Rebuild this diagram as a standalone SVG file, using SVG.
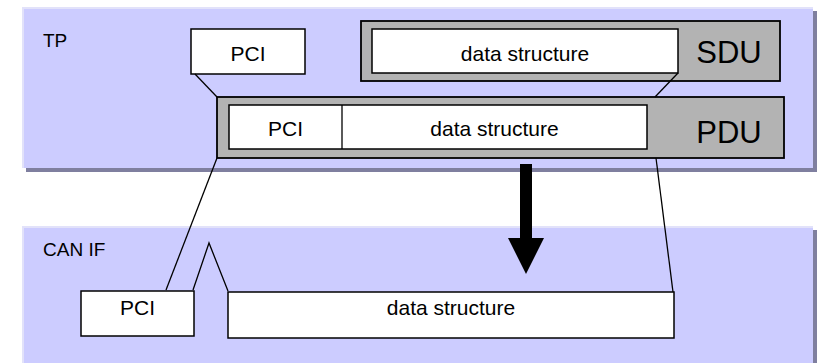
<svg xmlns="http://www.w3.org/2000/svg" width="818" height="363" viewBox="0 0 818 363">
<style>
.shadow{fill:#7f7f9f}
.panel{fill:#ccccff}
.hl{fill:#e2e2fa}
.box{fill:#ffffff;stroke:#000;stroke-width:1.5}
.gbox{fill:#b3b3b3;stroke:#000;stroke-width:1.8}
.ln{fill:none;stroke:#000;stroke-width:1.3}
text{font-family:"Liberation Sans",Arial,sans-serif;fill:#000}
.t{font-size:21px;text-anchor:middle}
.big{font-size:31px;text-anchor:middle}
.lab{font-size:19px}
</style>
<rect width="818" height="363" fill="#ffffff"/>
<g id="tp-panel">
<rect class="shadow" x="26" y="11" width="791" height="161"/>
<rect class="hl" x="22" y="7" width="791" height="161"/>
<rect class="panel" x="24" y="9" width="789" height="159"/>
<text class="lab" x="43" y="47">TP</text>
</g>
<g id="canif-panel">
<rect class="shadow" x="26" y="230" width="791" height="140"/>
<rect class="hl" x="22" y="226" width="791" height="140"/>
<rect class="panel" x="24" y="228" width="789" height="140"/>
<text class="lab" x="43" y="256">CAN IF</text>
</g>
<g id="tp-pci">
<rect class="box" x="191" y="29" width="114" height="45"/>
<text class="t" x="248" y="61">PCI</text>
</g>
<g id="sdu">
<rect class="gbox" x="361" y="21" width="419" height="60"/>
<rect class="box" x="372" y="29" width="306" height="44"/>
<text class="t" x="525" y="61">data structure</text>
<text class="big" x="729" y="63">SDU</text>
</g>
<g id="pdu">
<rect class="gbox" x="217" y="97" width="567" height="61"/>
<rect class="box" x="229" y="105" width="418" height="44"/>
<line class="ln" x1="342" y1="105" x2="342" y2="149"/>
<text class="t" x="285.5" y="136">PCI</text>
<text class="t" x="494.5" y="136">data structure</text>
<text class="big" x="729" y="143">PDU</text>
</g>
<g id="canif-pci">
<rect class="box" x="81" y="291" width="113" height="45"/>
<text class="t" x="137.5" y="315">PCI</text>
</g>
<g id="canif-data">
<rect class="box" x="228" y="292" width="446" height="46"/>
<text class="t" x="451" y="315">data structure</text>
</g>
<g id="connectors">
<line class="ln" x1="195" y1="74" x2="217" y2="97"/>
<line class="ln" x1="678" y1="73" x2="655" y2="97"/>
<line class="ln" x1="217" y1="158" x2="166" y2="290"/>
<line class="ln" x1="656" y1="158" x2="673" y2="292"/>
<polyline class="ln" points="193,290 209,243 228,291"/>
<rect x="520" y="164" width="12" height="75" fill="#000"/>
<polygon points="508,238 544,238 526,274" fill="#000"/>
</g>
</svg>
